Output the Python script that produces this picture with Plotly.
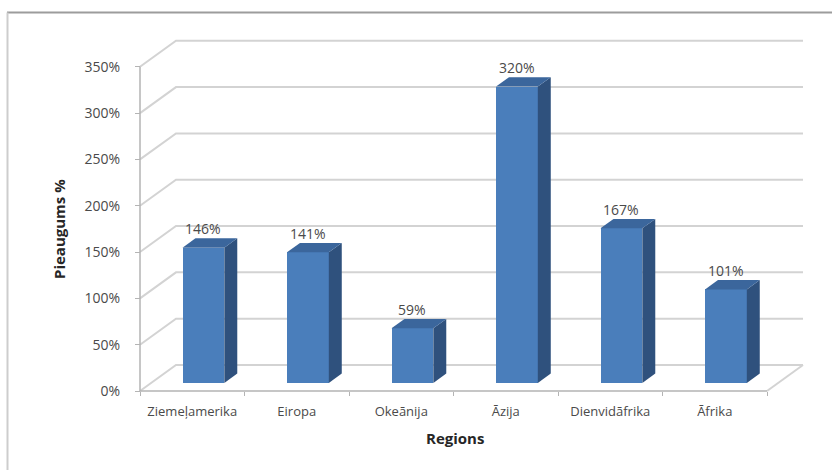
import plotly.graph_objects as go

# Growth by region, percent
regions = ["Ziemeļamerika", "Eiropa", "Okeānija", "Āzija", "Dienvidāfrika", "Āfrika"]
growth = [146, 141, 59, 320, 167, 101]
y_ticks = [0, 50, 100, 150, 200, 250, 300, 350]
y_tick_text = [f"{v}%" for v in y_ticks]

W, H = 832, 470
ML, MR, MT, MB = 130, 20, 30, 70

# pixel scale of the front plane
X0_PX, UNIT_PX = 140, 104.5      # left edge of category 0 and px per category
Y0_PX, PCT_PX = 391, 0.9263      # baseline and px per percent

# depth of the 3-D box in data units (back wall offset)
DX = 36 / UNIT_PX
DY = 26 / PCT_PX
F1, F2 = 0.31, 0.67              # bar front / back depth fractions
HALF_W = 0.2

x_min = -0.5 - (X0_PX - ML) / UNIT_PX
x_max = -0.5 + (W - MR - X0_PX) / UNIT_PX
y_min = -(H - MB - Y0_PX) / PCT_PX
y_max = (Y0_PX - MT) / PCT_PX

plot_w = W - ML - MR
plot_h = H - MT - MB


def paper_x(px):
    return (px - ML) / plot_w


def paper_y(py):
    return (H - MB - py) / plot_h


n = len(regions)
left = -0.5
right = n - 0.5

shapes = []
# back wall / side wall gridlines, kept beneath the bars
for v in y_ticks:
    shapes.append(dict(
        type="path", xref="x", yref="y", layer="below",
        path=f"M{left},{v} L{left + DX},{v + DY} L{right + DX},{v + DY}",
        line=dict(color="#d3d3d3", width=2)))
shapes.append(dict(
    type="path", xref="x", yref="y", layer="below",
    path=f"M{right},0 L{right + DX},{DY}",
    line=dict(color="#d3d3d3", width=2)))
# front axis lines
shapes.append(dict(
    type="path", xref="x", yref="y", layer="below",
    path=f"M{left},{y_ticks[-1]} L{left},0 L{right},0",
    line=dict(color="#b4b4b4", width=1.5)))
# chart frame
shapes.append(dict(type="line", xref="paper", yref="paper",
                   x0=paper_x(7), x1=paper_x(W), y0=paper_y(12.5), y1=paper_y(12.5),
                   line=dict(color="#9c9c9c", width=2)))
shapes.append(dict(type="line", xref="paper", yref="paper",
                   x0=paper_x(7.5), x1=paper_x(7.5), y0=paper_y(12.5), y1=paper_y(H),
                   line=dict(color="#cdcdcd", width=2)))

FRONT = "#4a7ebb"
SIDE = "#2f517d"
TOP = "#3b669c"
TEXT = "#4a4a4a"

fig = go.Figure()

# front faces
fig.add_trace(go.Bar(x=[i + F1 * DX for i in range(n)], y=growth,
                     base=[F1 * DY] * n, width=2 * HALF_W,
                     marker=dict(color=FRONT, line=dict(width=0)),
                     showlegend=False, hoverinfo="skip"))

for i, v in enumerate(growth):
    xl, xr = i - HALF_W, i + HALF_W
    # right side face
    fig.add_trace(go.Scatter(
        x=[xr + F1 * DX, xr + F2 * DX, xr + F2 * DX, xr + F1 * DX, xr + F1 * DX],
        y=[F1 * DY, F2 * DY, v + F2 * DY, v + F1 * DY, F1 * DY],
        mode="lines", fill="toself", fillcolor=SIDE, line=dict(width=0, color=SIDE),
        hoverinfo="skip", showlegend=False))
    # top face
    fig.add_trace(go.Scatter(
        x=[xl + F1 * DX, xr + F1 * DX, xr + F2 * DX, xl + F2 * DX, xl + F1 * DX],
        y=[v + F1 * DY, v + F1 * DY, v + F2 * DY, v + F2 * DY, v + F1 * DY],
        mode="lines", fill="toself", fillcolor=TOP, line=dict(width=0, color=TOP),
        hoverinfo="skip", showlegend=False))
    fig.add_annotation(x=i + F1 * DX, y=v + F1 * DY, text=f"{v}%",
                       showarrow=False, yshift=19, yanchor="middle",
                       font=dict(size=14, color=TEXT))

FONT = "Open Sans"
fig.update_layout(
    width=W, height=H, autosize=False,
    margin=dict(l=ML, r=MR, t=MT, b=MB),
    paper_bgcolor="white", plot_bgcolor="rgba(0,0,0,0)",
    font=dict(family=FONT, size=14, color=TEXT),
    bargap=0,
    xaxis=dict(range=[x_min, x_max], anchor="free", position=paper_y(Y0_PX),
               tickmode="array", tickvals=list(range(n)), ticktext=regions,
               ticks="", showgrid=False, zeroline=False, showline=False,
               ticklabelstandoff=11,
               minor=dict(tickmode="array",
                          tickvals=[k - 0.5 for k in range(n + 1)],
                          ticks="outside", ticklen=4, tickcolor="#b4b4b4",
                          showgrid=False),
               tickfont=dict(size=13)),
    yaxis=dict(range=[y_min, y_max], anchor="free", position=paper_x(X0_PX),
               tickmode="array", tickvals=y_ticks, ticktext=y_tick_text,
               ticks="outside", ticklen=5, tickcolor="#b4b4b4",
               showgrid=False, zeroline=False, showline=False,
               ticklabelstandoff=12, tickfont=dict(size=14)),
    shapes=shapes,
)

fig.add_annotation(xref="paper", yref="paper", x=paper_x(59), y=paper_y(229),
                   xanchor="center", yanchor="middle",
                   text="<b>Pieaugums %</b>", textangle=-90, showarrow=False,
                   font=dict(size=15, color="#262626"))
fig.add_annotation(xref="paper", yref="paper", x=paper_x(455), y=paper_y(438),
                   xanchor="center", yanchor="middle",
                   text="<b>Regions</b>", showarrow=False,
                   font=dict(size=15, color="#262626"))

fig.write_html("out.html")
